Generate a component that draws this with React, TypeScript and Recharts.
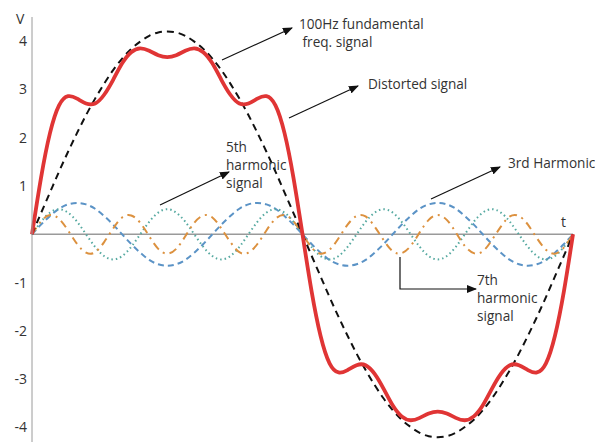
import React from 'react';
import { LineChart, Line, XAxis, YAxis, ReferenceLine } from 'recharts';

// phase angle of one full 100Hz period, degrees
const T = [
  0, 6, 12, 18, 24, 30, 36, 42, 48, 54, 60, 66, 72, 78, 84, 90, 96, 102, 108, 114,
  120, 126, 132, 138, 144, 150, 156, 162, 168, 174, 180, 186, 192, 198, 204, 210,
  216, 222, 228, 234, 240, 246, 252, 258, 264, 270, 276, 282, 288, 294, 300, 306,
  312, 318, 324, 330, 336, 342, 348, 354, 360
];

// 100Hz fundamental (black dashed)
const FUND = [
  0, 0.44, 0.87, 1.3, 1.71, 2.1, 2.47, 2.81, 3.12, 3.4, 3.64, 3.84, 3.99, 4.11, 4.18, 4.2,
  4.18, 4.11, 3.99, 3.84, 3.64, 3.4, 3.12, 2.81, 2.47, 2.1, 1.71, 1.3, 0.87, 0.44, 0,
  -0.44, -0.87, -1.3, -1.71, -2.1, -2.47, -2.81, -3.12, -3.4, -3.64, -3.84, -3.99, -4.11, -4.18, -4.2,
  -4.18, -4.11, -3.99, -3.84, -3.64, -3.4, -3.12, -2.81, -2.47, -2.1, -1.71, -1.3, -0.87, -0.44, 0
];

// 3rd harmonic (blue dashed)
const H3 = [
  0, 0.2, 0.38, 0.53, 0.62, 0.65, 0.62, 0.53, 0.38, 0.2, 0, -0.2, -0.38, -0.53, -0.62, -0.65,
  -0.62, -0.53, -0.38, -0.2, 0, 0.2, 0.38, 0.53, 0.62, 0.65, 0.62, 0.53, 0.38, 0.2, 0,
  -0.2, -0.38, -0.53, -0.62, -0.65, -0.62, -0.53, -0.38, -0.2, 0, 0.2, 0.38, 0.53, 0.62, 0.65,
  0.62, 0.53, 0.38, 0.2, 0, -0.2, -0.38, -0.53, -0.62, -0.65, -0.62, -0.53, -0.38, -0.2, 0
];

// 5th harmonic (green dotted)
const H5 = [
  0, 0.26, 0.45, 0.52, 0.45, 0.26, 0, -0.26, -0.45, -0.52, -0.45, -0.26, 0, 0.26, 0.45, 0.52,
  0.45, 0.26, 0, -0.26, -0.45, -0.52, -0.45, -0.26, 0, 0.26, 0.45, 0.52, 0.45, 0.26, 0,
  -0.26, -0.45, -0.52, -0.45, -0.26, 0, 0.26, 0.45, 0.52, 0.45, 0.26, 0, -0.26, -0.45, -0.52,
  -0.45, -0.26, 0, 0.26, 0.45, 0.52, 0.45, 0.26, 0, -0.26, -0.45, -0.52, -0.45, -0.26, 0
];

// 7th harmonic (orange dash-dot)
const H7 = [
  0, 0.27, 0.4, 0.32, 0.08, -0.2, -0.38, -0.37, -0.16, 0.12, 0.35, 0.39, 0.24, -0.04, -0.3, -0.4,
  -0.3, -0.04, 0.24, 0.39, 0.35, 0.12, -0.16, -0.37, -0.38, -0.2, 0.08, 0.32, 0.4, 0.27, 0,
  -0.27, -0.4, -0.32, -0.08, 0.2, 0.38, 0.37, 0.16, -0.12, -0.35, -0.39, -0.24, 0.04, 0.3, 0.4,
  0.3, 0.04, -0.24, -0.39, -0.35, -0.12, 0.16, 0.37, 0.38, 0.2, -0.08, -0.32, -0.4, -0.27, 0
];

// distorted signal (red)
const DIST = [
  0, 1.17, 2.1, 2.67, 2.86, 2.81, 2.71, 2.71, 2.89, 3.2, 3.54, 3.77, 3.85, 3.8, 3.71, 3.67,
  3.71, 3.8, 3.85, 3.77, 3.54, 3.2, 2.89, 2.71, 2.71, 2.81, 2.86, 2.67, 2.1, 1.17, 0,
  -1.17, -2.1, -2.67, -2.86, -2.81, -2.71, -2.71, -2.89, -3.2, -3.54, -3.77, -3.85, -3.8, -3.71, -3.67,
  -3.71, -3.8, -3.85, -3.77, -3.54, -3.2, -2.89, -2.71, -2.71, -2.81, -2.86, -2.67, -2.1, -1.17, 0
];

const Y_TICKS = [-4, -3, -2, -1, 1, 2, 3, 4];

const data = T.map((t, i) => ({
  t,
  fund: FUND[i],
  h3: H3[i],
  h5: H5[i],
  h7: H7[i],
  dist: DIST[i],
}));

const FONT = '"Open Sans", "Liberation Sans", sans-serif';

const Label = ({ x, y, lines }: { x: number; y: number; lines: string[] }) => (
  <text x={x} y={y} fontSize={13.6} fill="#333" fontFamily={FONT}>
    {lines.map((l, i) => (
      <tspan key={i} x={x} dy={i === 0 ? 0 : 18}>
        {l}
      </tspan>
    ))}
  </text>
);

const Annotations = () => (
  <svg
    width={595}
    height={442}
    style={{ position: 'absolute', left: 0, top: 0, pointerEvents: 'none', overflow: 'hidden' }}
  >
    <defs>
      <marker id="ah" markerWidth="10" markerHeight="8" refX="9" refY="4" orient="auto" markerUnits="userSpaceOnUse">
        <path d="M0,0 L10,4 L0,8 Z" fill="#111" />
      </marker>
    </defs>
    <g stroke="#111" strokeWidth={1.2} fill="none">
      <line x1={222} y1={60} x2={292} y2={28} markerEnd="url(#ah)" />
      <line x1={289} y1={118} x2={358} y2={86} markerEnd="url(#ah)" />
      <line x1={160} y1={205} x2={229} y2={172} markerEnd="url(#ah)" />
      <line x1={431} y1={199} x2={500} y2={167} markerEnd="url(#ah)" />
      <polyline points="400,257 400,289 476,289" markerEnd="url(#ah)" />
    </g>
    <Label x={299} y={29} lines={['100Hz fundamental', ' freq. signal']} />
    <Label x={368} y={89} lines={['Distorted signal']} />
    <Label x={226} y={152} lines={['5th', 'harmonic', 'signal']} />
    <Label x={508} y={168} lines={['3rd Harmonic']} />
    <Label x={477} y={285} lines={['7th', 'harmonic', 'signal']} />
    <text x={561} y={227} fontSize={14} fill="#333" fontFamily={FONT}>t</text>
    <text x={16} y={24} fontSize={14} fill="#333" fontFamily={FONT}>V</text>
  </svg>
);

export default function App() {
  return (
    <div style={{ position: 'absolute', left: 0, top: 0, width: 595, height: 442, background: '#fff', overflow: 'hidden' }}>
      <LineChart width={595} height={442} data={data} margin={{ top: 17, right: 22, bottom: 0, left: 0 }}>
        <XAxis dataKey="t" type="number" domain={[0, 360]} hide />
        <YAxis
          type="number"
          domain={[-4.3, 4.5]}
          ticks={Y_TICKS}
          width={32}
          tickLine={false}
          tickSize={3}
          tickMargin={2}
          axisLine={{ stroke: '#9a9a9a' }}
          tick={{ fill: '#333', fontSize: 14, fontFamily: FONT }}
        />
        <ReferenceLine y={0} stroke="#9a9a9a" strokeWidth={1.5} />
        <Line type="natural" dataKey="h3" stroke="#5b93c6" strokeWidth={2} strokeDasharray="6 4" dot={false} isAnimationActive={false} />
        <Line type="natural" dataKey="h5" stroke="#55a9a0" strokeWidth={2} strokeDasharray="1.5 3" dot={false} isAnimationActive={false} />
        <Line type="natural" dataKey="h7" stroke="#dc913f" strokeWidth={2} strokeDasharray="8 5 2 5" dot={false} isAnimationActive={false} />
        <Line type="natural" dataKey="fund" stroke="#111" strokeWidth={2} strokeDasharray="7 5" dot={false} isAnimationActive={false} />
        <Line type="natural" dataKey="dist" stroke="#e03535" strokeWidth={3.8} dot={false} isAnimationActive={false} />
      </LineChart>
      <Annotations />
    </div>
  );
}
